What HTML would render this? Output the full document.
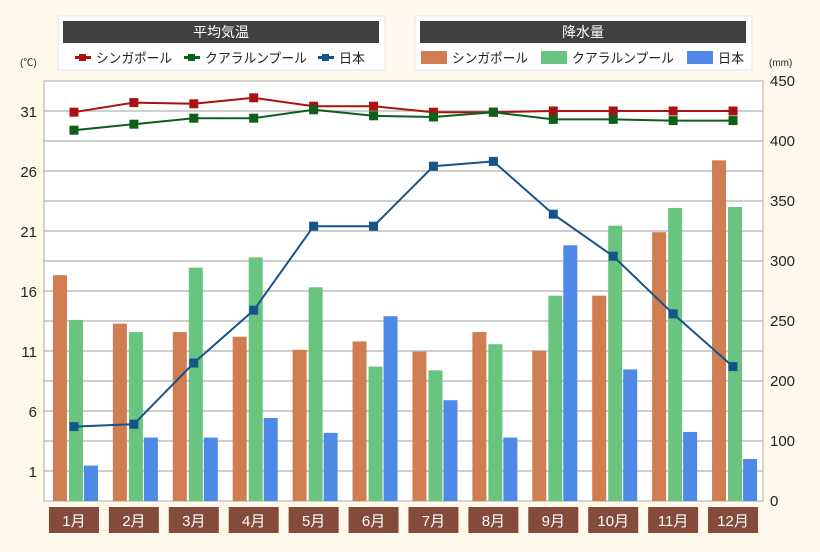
<!DOCTYPE html>
<html><head><meta charset="utf-8"><style>
body{margin:0;background:#fef9eb;}
svg{display:block;font-family:"Liberation Sans","Noto Sans CJK JP",sans-serif;}
</style></head><body>
<svg id="c" width="820" height="552" xmlns="http://www.w3.org/2000/svg">
<rect width="820" height="552" fill="#fef9eb"/>
<g>
<rect x="58" y="16" width="327" height="54" fill="#fff" stroke="#e6e6e6"/>
<rect x="63" y="21" width="316" height="22" fill="#404040"/>
<text x="221" y="37" fill="#fff" font-size="14" text-anchor="middle">平均気温</text>
<rect x="75" y="56" width="16" height="3" fill="#aa1111"/><rect x="79" y="54" width="7" height="7" fill="#aa1111"/>
<text x="96" y="63" font-size="13.5" fill="#222" textLength="76" lengthAdjust="spacingAndGlyphs">シンガポール</text>
<rect x="184" y="56" width="16" height="3" fill="#0c6019"/><rect x="188" y="54" width="7" height="7" fill="#0c6019"/>
<text x="205" y="63" font-size="13.5" fill="#222" textLength="102" lengthAdjust="spacingAndGlyphs">クアラルンプール</text>
<rect x="318" y="56" width="16" height="3" fill="#15548a"/><rect x="322" y="54" width="7" height="7" fill="#15548a"/>
<text x="339" y="63" font-size="13.5" fill="#222" textLength="26" lengthAdjust="spacingAndGlyphs">日本</text>
</g>
<g>
<rect x="415" y="16" width="337" height="54" fill="#fff" stroke="#e6e6e6"/>
<rect x="420" y="21" width="326" height="22" fill="#404040"/>
<text x="583" y="37" fill="#fff" font-size="14" text-anchor="middle">降水量</text>
<rect x="421" y="51" width="26" height="13" fill="#cf7d51"/>
<text x="452" y="63" font-size="13.5" fill="#222" textLength="76" lengthAdjust="spacingAndGlyphs">シンガポール</text>
<rect x="541" y="51" width="26" height="13" fill="#68c47e"/>
<text x="572" y="63" font-size="13.5" fill="#222" textLength="102" lengthAdjust="spacingAndGlyphs">クアラルンプール</text>
<rect x="687" y="51" width="26" height="13" fill="#4f89e8"/>
<text x="718" y="63" font-size="13.5" fill="#222" textLength="26" lengthAdjust="spacingAndGlyphs">日本</text>
</g>
<text x="20" y="66" font-size="10" fill="#222">(℃)</text>
<text x="769" y="66" font-size="10" fill="#222">(mm)</text>
<rect x="44" y="81" width="719" height="420" fill="#fff" stroke="#b0aaa0"/>
<g id="grid"></g><g id="bars"></g><g id="lines"></g><g id="axes"></g>
</svg>
<script>
const months=["1月","2月","3月","4月","5月","6月","7月","8月","9月","10月","11月","12月"];
const rainSG=[242,190,181,176,162,171,160,181,161,220,288,365];
const rainKL=[194,181,250,261,229,144,140,168,220,295,314,315];
const rainJP=[38,68,68,89,73,198,108,68,274,141,74,45];
const tempSG=[30.9,31.7,31.6,32.1,31.4,31.4,30.9,30.9,31.0,31.0,31.0,31.0];
const tempKL=[29.4,29.9,30.4,30.4,31.1,30.6,30.5,30.9,30.3,30.3,30.2,30.2];
const tempJP=[4.7,4.9,10.0,14.4,21.4,21.4,26.4,26.8,22.4,18.9,14.1,9.7];
const leftTicks=[1,6,11,16,21,26,31];
const rightTickLabels=["450","400","350","300","250","200","100","0"];
const NS="http://www.w3.org/2000/svg";
const X0=44,W=719,Y0=81,Y1=501;
function xc(i){return X0+(i+0.5)*W/12;}
function yT(t){return 471-(t-1)*12;}
function yR(v){return Y1-v*(420/450);}
function mk(tag,attrs,parent,txt){const e=document.createElementNS(NS,tag);for(const k in attrs)e.setAttribute(k,attrs[k]);if(txt!==undefined)e.textContent=txt;document.getElementById(parent).appendChild(e);return e;}
for(let k=1;k<14;k++){const y=Y0+k*30;const g=mk('line',{x1:X0,x2:X0+W,y1:y,y2:y,stroke:'#b0b0b0','stroke-width':1.3},'grid');

}
leftTicks.forEach(t=>{const e=mk('text',{x:37,y:yT(t)+6,'font-size':15,'text-anchor':'end',fill:'#222'},'axes',String(t));

});
rightTickLabels.forEach((s,i)=>{const y=i<7?80+i*60:500;const e=mk('text',{x:770,y:y+6,'font-size':15,fill:'#222'},'axes',s);

});
months.forEach((m,i)=>{const c=xc(i);
const r=mk('rect',{x:c-25,y:507,width:50,height:26,fill:'#844b3c'},'axes');


const t=mk('text',{x:c,y:526,'font-size':15,fill:'#fff','text-anchor':'middle'},'axes',m);


[[rainSG,'#cf7d51',-21,'bar-singapore'],[rainKL,'#68c47e',-5,'bar-kuala-lumpur'],[rainJP,'#4f89e8',10,'bar-japan']].forEach(([arr,col,off,nm])=>{
const y=yR(arr[i]);const b=mk('rect',{x:c+off,y:y,width:14,height:Y1-y,fill:col},'bars');

});
});
[[tempSG,'#aa1111','line-singapore'],[tempKL,'#0c6019','line-kuala-lumpur'],[tempJP,'#15548a','line-japan']].forEach(([arr,col,nm])=>{
const p=mk('polyline',{points:arr.map((t,i)=>xc(i)+','+yT(t)).join(' '),fill:'none',stroke:col,'stroke-width':2},'lines');


arr.forEach((t,i)=>{const m=mk('rect',{x:xc(i)-4.5,y:yT(t)-4.5,width:9,height:9,fill:col},'lines');

});
});
</script>
</body></html>
